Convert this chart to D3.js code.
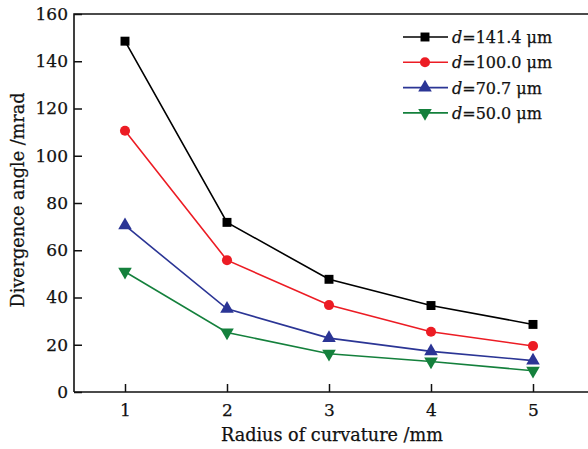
<!DOCTYPE html>
<html>
<head>
<meta charset="utf-8">
<script src="https://cdn.jsdelivr.net/npm/d3@7"></script>
<style>
  html, body { margin: 0; padding: 0; background: #fff; }
  svg { display: block; }
  text { font-family: "DejaVu Serif", "Liberation Serif", serif; fill: #111; stroke: #111; stroke-width: 0.25px; }
</style>
</head>
<body>
<svg id="chart" width="588" height="449"></svg>
<script>
// Radius of curvature (mm)
const radii = [1, 2, 3, 4, 5];
// Divergence angle (mrad) for each grating period d
const d141 = [148.5, 71.8, 47.7, 36.6, 28.6];
const d100 = [110.6, 55.8, 36.8, 25.5, 19.5];
const d70  = [70.5, 35.2, 22.8, 17.2, 13.3];
const d50  = [50.9, 25.2, 16.2, 12.9, 9.0];
const seriesLabels = ["141.4 μm", "100.0 μm", "70.7 μm", "50.0 μm"];
const yTicks = [0, 20, 40, 60, 80, 100, 120, 140, 160];
const xTicks = [1, 2, 3, 4, 5];

const series = [
  { label: seriesLabels[0], values: d141, color: "#000000", symbol: d3.symbolSquare, size: 80, rot: 0 },
  { label: seriesLabels[1], values: d100, color: "#ec1c24", symbol: d3.symbolCircle, size: 80, rot: 0 },
  { label: seriesLabels[2], values: d70,  color: "#2b3595", symbol: d3.symbolTriangle, size: 80, rot: 0 },
  { label: seriesLabels[3], values: d50,  color: "#14803c", symbol: d3.symbolTriangle, size: 80, rot: 180 }
];

const svg = d3.select("#chart");
const plotL = 74, plotR = 584, plotT = 14, plotB = 392;

const x = d3.scaleLinear().domain([0.5, 5.5]).range([plotL, plotR]);
const y = d3.scaleLinear().domain([0, 160]).range([plotB, plotT]);

// Frame (right edge runs off the canvas)
svg.append("path")
  .attr("d", `M${plotL},${plotB}V${plotT}H${plotR + 10}M${plotL},${plotB}H${plotR + 10}`)
  .attr("fill", "none").attr("stroke", "#111").attr("stroke-width", 1.6);

// Axes with inward ticks
const xAxis = svg.append("g").attr("transform", `translate(0,${plotB})`)
  .call(d3.axisBottom(x).tickValues(xTicks).tickSizeInner(-8).tickSizeOuter(0).tickPadding(12).tickFormat(d3.format("d")));
const yAxis = svg.append("g").attr("transform", `translate(${plotL},0)`)
  .call(d3.axisLeft(y).tickValues(yTicks).tickSizeInner(-8).tickSizeOuter(0).tickPadding(6).tickFormat(d3.format("d")));
[xAxis, yAxis].forEach(g => {
  g.select(".domain").remove();
  g.selectAll(".tick line").attr("stroke", "#111").attr("stroke-width", 1.5);
  g.selectAll(".tick text").attr("font-size", 17).attr("font-family", "DejaVu Serif, serif").attr("fill", "#111");
});

// Axis titles
svg.append("text").attr("x", 332).attr("y", 441).attr("text-anchor", "middle")
  .attr("font-size", 17.6).text("Radius of curvature /mm");
svg.append("text").attr("transform", "translate(24,200) rotate(-90)").attr("text-anchor", "middle")
  .attr("font-size", 17.6).text("Divergence angle /mrad");

// Lines and markers
const line = d3.line().x((d, i) => x(radii[i])).y(d => y(d));
series.forEach(s => {
  svg.append("path").datum(s.values).attr("d", line)
    .attr("fill", "none").attr("stroke", s.color).attr("stroke-width", 1.6);
  svg.selectAll(null).data(s.values).enter().append("path")
    .attr("d", d3.symbol().type(s.symbol).size(s.size))
    .attr("transform", (d, i) => `translate(${x(radii[i])},${y(d)}) rotate(${s.rot})`)
    .attr("fill", s.color);
});

// Legend
const lg = svg.append("g");
series.forEach((s, i) => {
  const yy = 37 + i * 25.3;
  lg.append("line").attr("x1", 403).attr("x2", 448).attr("y1", yy).attr("y2", yy)
    .attr("stroke", s.color).attr("stroke-width", 1.6);
  lg.append("path").attr("d", d3.symbol().type(s.symbol).size(s.size))
    .attr("transform", `translate(425,${yy}) rotate(${s.rot})`).attr("fill", s.color);
  const t = lg.append("text").attr("x", 452).attr("y", yy + 6).attr("font-size", 16);
  t.append("tspan").attr("font-style", "italic").text("d");
  t.append("tspan").text("=" + s.label);
});
</script>
</body>
</html>
